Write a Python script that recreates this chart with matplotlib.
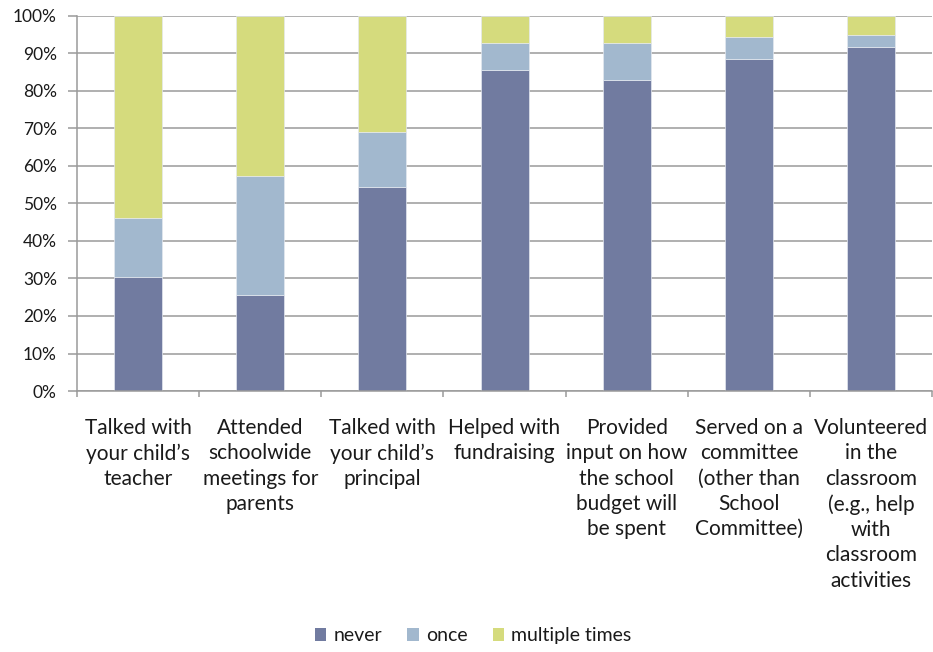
import matplotlib.pyplot as plt
import numpy as np
from matplotlib.patches import Patch
from matplotlib.ticker import PercentFormatter

plt.rcParams['font.family'] = ['Lato', 'DejaVu Sans']

categories = [
    "Talked with\nyour child\u2019s\nteacher",
    "Attended\nschoolwide\nmeetings for\nparents",
    "Talked with\nyour child\u2019s\nprincipal",
    "Helped with\nfundraising",
    "Provided\ninput on how\nthe school\nbudget will\nbe spent",
    "Served on a\ncommittee\n(other than\nSchool\nCommittee)",
    "Volunteered\nin the\nclassroom\n(e.g., help\nwith\nclassroom\nactivities",
]
never = [30.5, 25.7, 54.5, 85.6, 82.9, 88.6, 91.8]
once = [15.5, 31.5, 14.6, 7.1, 9.8, 5.9, 3.1]
multiple = [100 - n - o for n, o in zip(never, once)]

series = ["never", "once", "multiple times"]
colors = ["#717BA0", "#A2B8CE", "#D5DB7D"]
GRID = "#9A9A9A"
INK = "#1a1a1a"

fig = plt.figure(figsize=(9.33, 6.52), dpi=100)
ax = fig.add_axes([0.0825, 0.4003, 0.9165, 0.5752])

x = np.arange(len(categories))
bottom = np.zeros(len(categories))
for vals, col in zip([never, once, multiple], colors):
    ax.bar(x, vals, width=0.393, bottom=bottom, color=col,
           edgecolor="#E4E8EF", linewidth=0.5, zorder=2)
    bottom += np.array(vals)

ax.set_xlim(-0.5, len(categories) - 0.5)
ax.set_ylim(0, 100)
ax.set_yticks(np.arange(0, 101, 10))
ax.yaxis.set_major_formatter(PercentFormatter(decimals=0))
ax.grid(axis="y", color=GRID, linewidth=1.1, zorder=0)

for side in ["top", "right"]:
    ax.spines[side].set_visible(False)
for side in ["left", "bottom"]:
    ax.spines[side].set_color(GRID)
    ax.spines[side].set_linewidth(1.1)

ax.tick_params(axis="y", length=6.5, width=1.1, color=GRID, pad=8,
               labelsize=12.5, labelcolor=INK)
ax.set_xticks(x)
ax.set_xticklabels(categories, fontsize=15, linespacing=1.33, color=INK)
ax.tick_params(axis="x", which="major", length=0, pad=19.5)
ax.set_xticks(np.arange(-0.5, len(categories), 1), minor=True)
ax.tick_params(axis="x", which="minor", length=4.5, width=1.1, color=GRID)

handles = [Patch(facecolor=c, edgecolor="none") for c in colors]
fig.legend(handles, series, loc="center", bbox_to_anchor=(0.507, 0.025),
           ncol=3, frameon=False, fontsize=14, handlelength=0.6,
           handleheight=0.6, handletextpad=0.35, columnspacing=1.3,
           labelcolor=INK)

fig.savefig("out.png", dpi=100)
